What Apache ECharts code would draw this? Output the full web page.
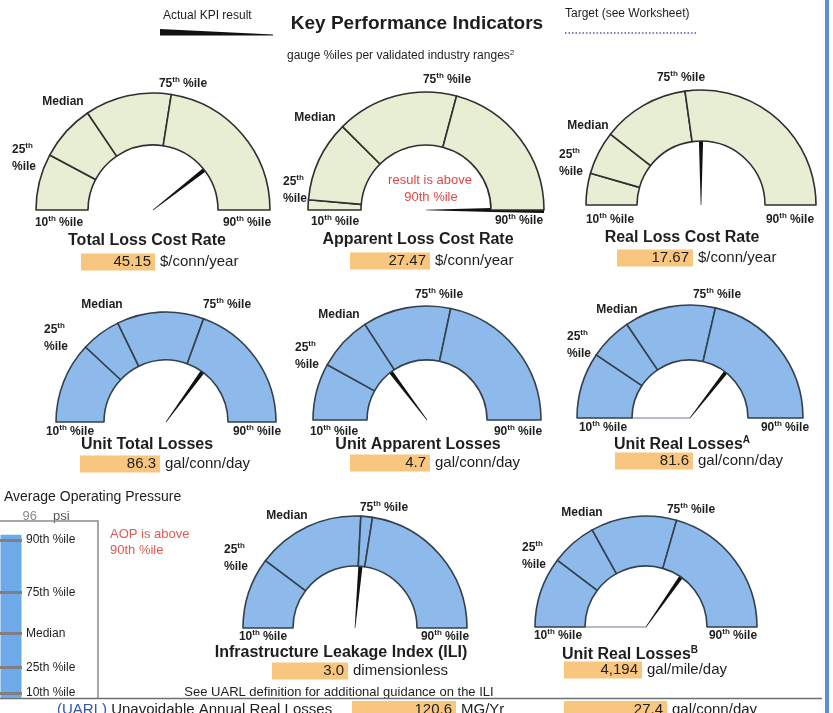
<!DOCTYPE html>
<html>
<head>
<meta charset="utf-8">
<title>Key Performance Indicators</title>
<script src="https://cdn.jsdelivr.net/npm/echarts@6/dist/echarts.min.js"></script>
<style>
  html, body { margin: 0; padding: 0; background: #fff; }
  #chart { width: 833px; height: 713px; }
</style>
</head>
<body>
<div id="chart"></div>
<script>
// KPI gauges
const kpiNames = ['Total Loss Cost Rate', 'Apparent Loss Cost Rate', 'Real Loss Cost Rate',
  'Unit Total Losses', 'Unit Apparent Losses', 'Unit Real Losses',
  'Infrastructure Leakage Index (ILI)', 'Unit Real Losses']
const kpiNotes = ['', '', '', '', '', 'A', '', 'B']
const kpiValues = ['45.15', '27.47', '17.67', '86.3', '4.7', '81.6', '3.0', '4,194']
const kpiUnits = ['$/conn/year', '$/conn/year', '$/conn/year', 'gal/conn/day', 'gal/conn/day',
  'gal/conn/day', 'dimensionless', 'gal/mile/day']
// gauge scale: 0 = 10th %ile (left end), 180 = 90th %ile (right end)
const pct25 = [28, 5, 16, 43, 29, 34, 37, 37]
const pctMedian = [56, 45, 38, 64, 57, 56, 93, 61]
const pct75 = [99, 105, 82, 110, 102, 103, 99, 106]
const kpiNeedle = [142, 180, 90, 126, 53, 128, 95, 125]
const targetNeedle = [null, null, null, null, null, 0, null, 0]

// Average operating pressure
const aopValue = 96
const aopLabels = ['90th %ile', '75th %ile', 'Median', '25th %ile', '10th %ile']
const aopLevels = [93, 62, 38, 18, 3]

// UARL row
const uarlValues = ['120.6', '27.4']
const uarlUnits = ['MG/Yr', 'gal/conn/day']

const FONT = '"Liberation Sans", Arial, sans-serif'
const GREEN = '#e8eed4'
const BLUE = '#8dbaea'
const ORANGE = '#f8c67e'
const RED = '#d9494a'
const INK = '#1e1e1e'
// thick through the band, tapering inside the hole
const NEEDLE = 'path://M0,0 L10,0 L8.5,44 L5.5,100 L4.5,100 L1.5,44 Z'

// placement of each gauge on the page
const gaugeLayout = [
  { c: [153, 210], r: 117, ri: 65, row: 0, title: [147, 241], box: [81, 155, 262],
    l75: [30, -126], lMed: [-90, -108], l25: [-141, -60], l10: [-94, 13], l90: [94, 13] },
  { c: [426, 210], r: 118, ri: 65, row: 0, title: [418, 240], box: [350, 430, 261],
    l75: [21, -130], lMed: [-111, -92], l25: [-143, -28], l10: [-91, 12], l90: [93, 11] },
  { c: [701, 205], r: 115, ri: 64, row: 0, title: [682, 238], box: [617, 693, 258],
    l75: [-20, -127], lMed: [-113, -79], l25: [-142, -50], l10: [-91, 15], l90: [89, 15] },
  { c: [166, 422], r: 110, ri: 62, row: 1, title: [147, 445], box: [80, 160, 464],
    l75: [61, -117], lMed: [-64, -117], l25: [-122, -92], l10: [-96, 10], l90: [91, 10] },
  { c: [427, 420], r: 114, ri: 60, row: 1, title: [418, 445], box: [350, 430, 463],
    l75: [12, -125], lMed: [-88, -105], l25: [-132, -72], l10: [-93, 12], l90: [91, 12] },
  { c: [690, 418], r: 113, ri: 58, row: 1, title: [682, 445], box: [615, 693, 461],
    l75: [27, -123], lMed: [-73, -108], l25: [-123, -81], l10: [-87, 10], l90: [95, 10] },
  { c: [355, 628], r: 112, ri: 62, row: 2, title: [341, 653], box: [272, 348, 671],
    l75: [29, -120], lMed: [-68, -112], l25: [-131, -78], l10: [-92, 9], l90: [90, 9] },
  { c: [646, 627], r: 111, ri: 61, row: 2, title: [630, 655], box: [564, 642, 670],
    l75: [45, -117], lMed: [-64, -114], l25: [-124, -79], l10: [-88, 9], l90: [87, 9] }
]

const labelRich = {
  n: { fontFamily: FONT, fontSize: 12, fontWeight: 'bold', fill: INK, lineHeight: 17 },
  s: { fontFamily: FONT, fontSize: 8, fontWeight: 'bold', fill: INK, lineHeight: 8, verticalAlign: 'top' }
}
const titleRich = {
  t: { fontFamily: FONT, fontSize: 16, fontWeight: 'bold', fill: INK, lineHeight: 20 },
  s: { fontFamily: FONT, fontSize: 10, fontWeight: 'bold', fill: INK, lineHeight: 10, verticalAlign: 'top' }
}

const text = (x, y, str, opt = {}) => ({
  type: 'text', silent: true,
  style: Object.assign({ x, y, text: str, fill: INK, font: '12px ' + FONT, align: 'left', verticalAlign: 'middle' }, opt)
})

const series = []
const graphic = []

gaugeLayout.forEach((g, i) => {
  const fill = g.row === 0 ? GREEN : BLUE
  const edge = g.row === 0 ? '#2f2f2f' : '#33404d'
  const bands = [pct25[i], pctMedian[i] - pct25[i], pct75[i] - pctMedian[i], 180 - pct75[i]]

  // band with percentile dividers
  series.push({
    type: 'pie', silent: true, animation: false,
    center: g.c, radius: [g.ri, g.r], startAngle: 180, clockwise: true,
    label: { show: false }, labelLine: { show: false }, emphasis: { disabled: true },
    data: bands.map(v => ({ value: v, itemStyle: { color: fill, borderColor: edge, borderWidth: 1.6 } }))
      .concat([{ value: 180, itemStyle: { color: 'rgba(0,0,0,0)', borderWidth: 0 } }])
  })

  const needleBase = {
    type: 'gauge', silent: true, animation: false,
    center: g.c, radius: g.r, startAngle: 180, endAngle: 0, min: 0, max: 180,
    axisLine: { show: false }, axisTick: { show: false }, splitLine: { show: false },
    axisLabel: { show: false }, progress: { show: false }, anchor: { show: false },
    title: { show: false }, detail: { show: false }
  }
  if (targetNeedle[i] !== null) {
    series.push(Object.assign({}, needleBase, {
      pointer: { icon: 'rect', length: g.ri, width: 2, itemStyle: { color: '#b9bcc8' } },
      data: [{ value: targetNeedle[i] }]
    }))
  }
  series.push(Object.assign({}, needleBase, {
    pointer: { icon: NEEDLE, length: '100%', width: 6, itemStyle: { color: '#111' } },
    data: [{ value: kpiNeedle[i] }]
  }))

  // percentile labels
  const [cx, cy] = g.c
  const centered = { rich: labelRich, align: 'center' }
  graphic.push(text(cx + g.l75[0], cy + g.l75[1], '{n|75}{s|th}{n| %ile}', centered))
  graphic.push(text(cx + g.lMed[0], cy + g.lMed[1], '{n|Median}', centered))
  graphic.push(text(cx + g.l25[0], cy + g.l25[1] - 8.5, '{n|25}{s|th}\n{n|%ile}', { rich: labelRich, verticalAlign: 'top' }))
  graphic.push(text(cx + g.l10[0], cy + g.l10[1], '{n|10}{s|th}{n| %ile}', centered))
  graphic.push(text(cx + g.l90[0], cy + g.l90[1], '{n|90}{s|th}{n| %ile}', centered))

  // title and value box
  const note = kpiNotes[i] ? '{s|' + kpiNotes[i] + '}' : ''
  graphic.push(text(g.title[0], g.title[1], '{t|' + kpiNames[i] + '}' + note, { rich: titleRich, align: 'center' }))
  const [x0, x1, ym] = g.box
  graphic.push({ type: 'rect', silent: true, shape: { x: x0, y: ym - 8.5, width: x1 - x0, height: 17 }, style: { fill: ORANGE } })
  graphic.push(text(x1 - 4, ym, kpiValues[i], { font: '15px ' + FONT, align: 'right' }))
  graphic.push(text(x1 + 5, ym, kpiUnits[i], { font: '15px ' + FONT }))
})

// note inside Apparent Loss gauge
graphic.push(text(430, 180, 'result is above', { fill: RED, font: '13px ' + FONT, align: 'center' }))
graphic.push(text(431, 197, '90th %ile', { fill: RED, font: '13px ' + FONT, align: 'center' }))

// header
graphic.push(text(163, 16, 'Actual KPI result', { font: '12px ' + FONT }))
graphic.push({ type: 'polygon', silent: true, shape: { points: [[160, 29], [273, 34.6], [273, 35.4], [160, 35.5]] }, style: { fill: '#111' } })
graphic.push(text(417, 24, 'Key Performance Indicators', { font: 'bold 19px ' + FONT, align: 'center' }))
graphic.push(text(287, 56, '{a|gauge %iles per validated industry ranges}{b|2}', {
  rich: {
    a: { fontFamily: FONT, fontSize: 12, fill: INK, lineHeight: 15 },
    b: { fontFamily: FONT, fontSize: 8, fill: INK, lineHeight: 8, verticalAlign: 'top' }
  }
}))
graphic.push(text(565, 14, 'Target (see Worksheet)', { font: '12px ' + FONT }))
graphic.push({ type: 'line', silent: true, shape: { x1: 565, y1: 33, x2: 698, y2: 33 }, style: { stroke: '#7d82b6', lineWidth: 2, lineDash: [1.5, 2] } })

// AOP panel
graphic.push(text(4, 497, 'Average Operating Pressure', { font: '14px ' + FONT }))
graphic.push(text(37, 516, String(aopValue), { font: '13px ' + FONT, fill: '#8a8a8a', align: 'right' }))
graphic.push(text(53, 516, 'psi', { font: '13px ' + FONT, fill: '#555' }))
graphic.push({ type: 'polyline', silent: true, shape: { points: [[0, 521], [98, 521], [98, 698]] }, style: { stroke: '#8a8a8a', lineWidth: 1.5, fill: null } })
graphic.push(text(110, 534, 'AOP is above', { fill: '#e05a55', font: '13px ' + FONT }))
graphic.push(text(110, 550, '90th %ile', { fill: '#e05a55', font: '13px ' + FONT }))

// footer
graphic.push(text(339, 692, 'See UARL definition for additional guidance on the ILI', { font: '13px ' + FONT, align: 'center' }))
graphic.push({ type: 'line', silent: true, shape: { x1: 0, y1: 698.5, x2: 822, y2: 698.5 }, style: { stroke: '#6f6f6f', lineWidth: 1.5 } })
graphic.push(text(57, 702, '{b|(UARL)}{a| Unavoidable Annual Real Losses}', {
  verticalAlign: 'top',
  rich: {
    a: { fontFamily: FONT, fontSize: 15, fill: INK },
    b: { fontFamily: FONT, fontSize: 15, fill: '#3355aa' }
  }
}))
const uarlBoxes = [[352, 456], [564, 667]]
uarlBoxes.forEach(([x0, x1], k) => {
  graphic.push({ type: 'rect', silent: true, shape: { x: x0, y: 701, width: x1 - x0, height: 14 }, style: { fill: ORANGE } })
  graphic.push(text(x1 - 4, 702, uarlValues[k], { font: '15px ' + FONT, align: 'right', verticalAlign: 'top' }))
  graphic.push(text(x1 + 5, 702, uarlUnits[k], { font: '15px ' + FONT, verticalAlign: 'top' }))
})

// window frame on the right
graphic.push({ type: 'rect', silent: true, shape: { x: 825, y: 0, width: 4, height: 713 }, style: { fill: '#5b8ed6' } })

// AOP bar with percentile marks
series.push({
  type: 'bar', silent: true, animation: false,
  xAxisIndex: 0, yAxisIndex: 0,
  data: [aopValue], barWidth: 21,
  itemStyle: { color: '#6eaaea' },
  markLine: {
    silent: true, animation: false, symbol: ['none', 'none'],
    lineStyle: { color: '#7f7f7f', width: 3, type: 'solid' },
    label: { show: true, position: 'end', formatter: '{b}', color: INK, fontSize: 12, fontFamily: FONT, distance: 4 },
    data: aopLabels.map((n, k) => ({ name: n, yAxis: aopLevels[k] }))
  }
})

const chart = echarts.init(document.getElementById('chart'))
chart.setOption({
  backgroundColor: '#fff',
  animation: false,
  grid: [{ left: -1, top: 528, width: 23, height: 170 }],
  xAxis: [{ type: 'category', data: ['AOP'], show: false }],
  yAxis: [{ type: 'value', min: 0, max: 100, show: false }],
  series,
  graphic: { elements: graphic }
})
</script>
</body>
</html>
